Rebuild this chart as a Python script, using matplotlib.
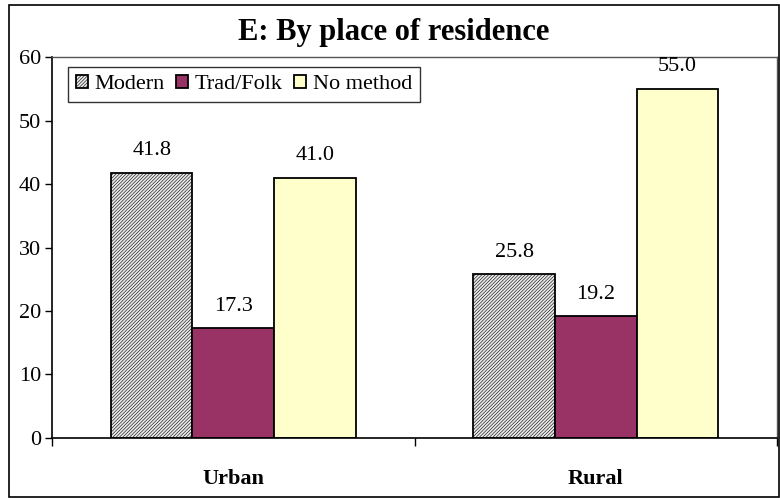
import numpy as np
import matplotlib.pyplot as plt
from matplotlib.patches import Rectangle

plt.rcParams['font.family'] = ['Liberation Serif', 'DejaVu Serif']
plt.rcParams['hatch.color'] = '#b4b4b4'
plt.rcParams['hatch.linewidth'] = 0.4

# Data
places = ['Urban', 'Rural']
series = ['Modern', 'Trad/Folk', 'No method']
modern = [41.8, 25.8]
trad_folk = [17.3, 19.2]
no_method = [41.0, 55.0]

values = [modern, trad_folk, no_method]
colors = ['#e8e8e8', '#993366', '#ffffcc']
hatches = ['/' * 10, None, None]

fig = plt.figure(figsize=(7.8, 4.98), dpi=100)
ax = fig.add_axes([0.0667, 0.1205, 0.9295, 0.765])

x = np.arange(len(places))
width = 0.225
for i, (vals, name) in enumerate(zip(values, series)):
    pos = x + (i - 1) * width
    bars = ax.bar(pos, vals, width, color=colors[i], edgecolor='black',
                  linewidth=1.3, hatch=hatches[i], label=name)
    for b, v in zip(bars, vals):
        ax.annotate(f'{v:.1f}', (b.get_x() + b.get_width() / 2, v),
                    xytext=(0, 9), textcoords='offset points',
                    ha='center', va='bottom', fontsize=16)

ax.set_xlim(-0.5, 1.5)
ax.set_ylim(0, 60)
ax.set_yticks(range(0, 61, 10))
ax.tick_params(axis='y', labelsize=16, length=5, width=1, pad=3)

ax.set_xticks(x)
ax.set_xticklabels(places, fontsize=16, fontweight='bold')
ax.tick_params(axis='x', which='major', length=0, pad=22)
ax.set_xticks([-0.5, 0.5, 1.5], minor=True)
ax.tick_params(axis='x', which='minor', length=6, width=1)

for s in ['left', 'bottom']:
    ax.spines[s].set_linewidth(1.2)
    ax.spines[s].set_color('black')
for s in ['top', 'right']:
    ax.spines[s].set_linewidth(1)
    ax.spines[s].set_color('#555555')

leg = ax.legend(loc='upper left', bbox_to_anchor=(0.022, 0.974), ncol=3,
                fontsize=16, frameon=True, fancybox=False, edgecolor='black',
                handlelength=0.55, handleheight=0.55, handletextpad=0.3,
                columnspacing=0.5, borderpad=0.35, borderaxespad=0)
leg.get_frame().set_linewidth(1)

fig.text(0.505, 0.935, 'E: By place of residence', ha='center', va='center',
         fontsize=22, fontweight='bold')

fig.patches.append(Rectangle((0.011, 0.002), 0.988, 0.988, transform=fig.transFigure,
                             fill=False, edgecolor='black', linewidth=1.2))

fig.savefig('out.png', dpi=100)
